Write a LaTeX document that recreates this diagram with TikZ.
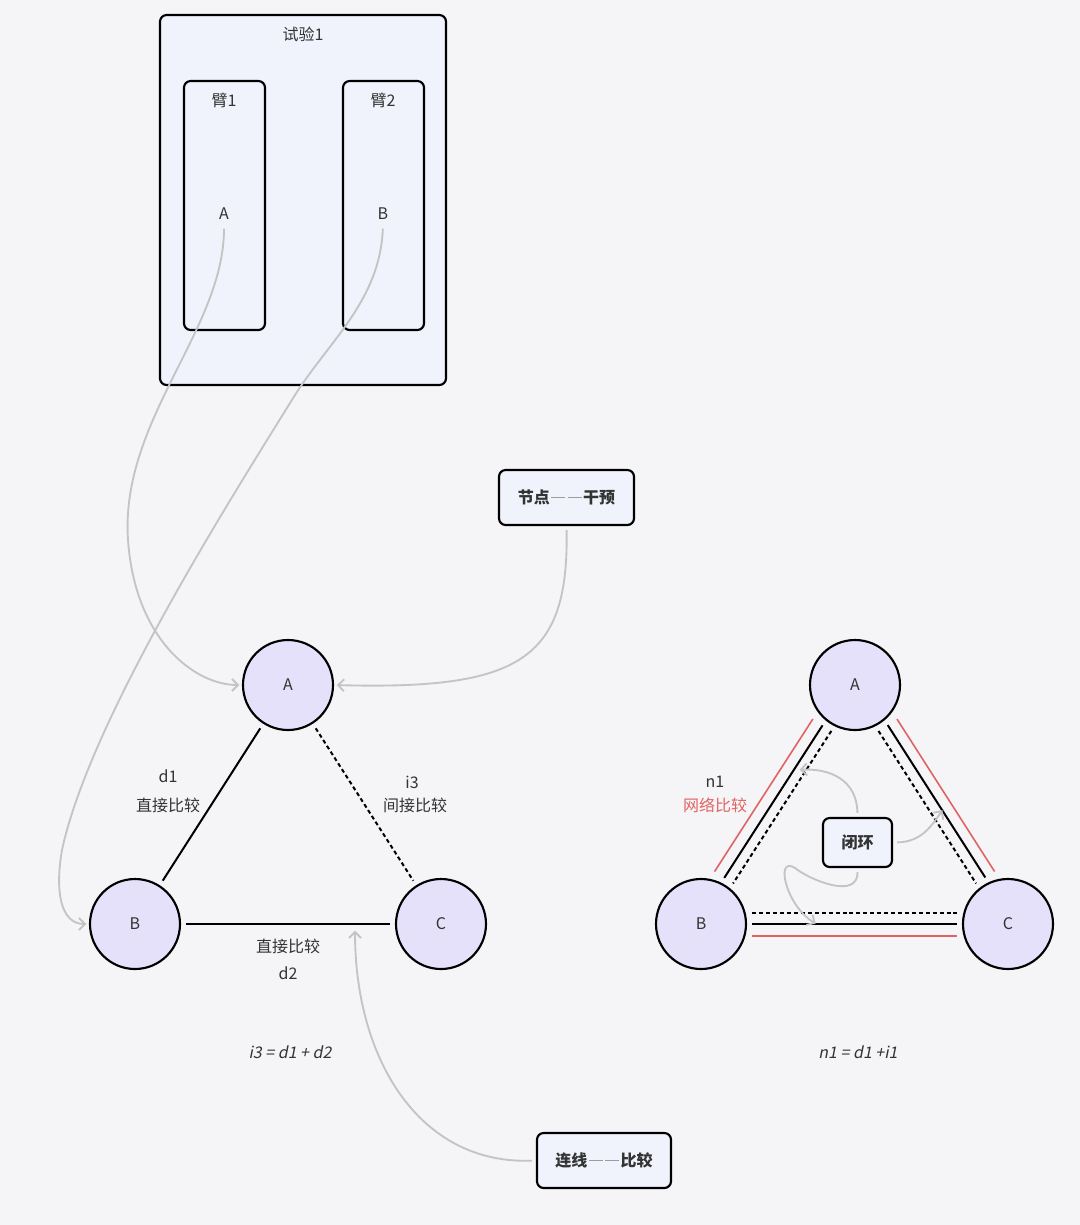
\documentclass[tikz,border=0pt]{standalone}
\usepackage{fontspec}
\setmainfont{Noto Sans CJK SC}
\newfontfamily\slantfont[FakeSlant=0.2]{Noto Sans CJK SC}
\usetikzlibrary{arrows.meta}
\definecolor{bgpaper}{HTML}{F5F5F7}
\definecolor{boxfill}{HTML}{F0F3FC}
\definecolor{circfill}{HTML}{E6E1FA}
\definecolor{guidegray}{HTML}{C4C4C4}
\definecolor{dashgray}{HTML}{9C9C9C}
\definecolor{netred}{HTML}{E06464}
\definecolor{inktext}{HTML}{333333}
\newcommand{\gapdash}{\textcolor{dashgray}{\makebox[12.5pt]{\rule[0.32em]{10.5pt}{1.1pt}}\makebox[12.5pt]{\rule[0.32em]{10.5pt}{1.1pt}}}}
\begin{document}
\begin{tikzpicture}[x=0.75pt,y=-0.75pt,
            font=\fontsize{12}{14}\selectfont,text=inktext,
            frame/.style={draw=black,line width=1.6pt,fill=boxfill,rounded corners=5pt,inner sep=0pt},
            tag/.style={frame,font=\fontsize{12}{14}\selectfont\bfseries},
            treat/.style={circle,draw=black,line width=1.6pt,fill=circfill,minimum size=67.5pt,inner sep=0pt},
            cmp/.style={line width=1.5pt,shorten <=4pt,shorten >=4pt},
            dots/.style={cmp,dash pattern=on 3pt off 2.2pt},
            rim/.style={cmp,draw=netred,line width=1.2pt},
            guide/.style={draw=guidegray,line width=1.4pt,shorten <=3pt,shorten >=2pt,-{Straight Barb[length=4.5pt,width=9pt]}},
            formula/.style={font=\slantfont\fontsize{12}{14}\selectfont}]
            \fill[bgpaper] (0,0) rectangle (1080,1225);

            \node[frame,minimum width=286*0.75pt,minimum height=370*0.75pt] at (303,200) (trial) {};
            \node at (303,34) (trialname) {试验1};
            \node[frame,minimum width=81*0.75pt,minimum height=249*0.75pt] at (224.5,205.5) (arm1) {};
            \node[frame,minimum width=81*0.75pt,minimum height=249*0.75pt] at (383.5,205.5) (arm2) {};
            \node at (224,100) (arm1name) {臂1};
            \node at (383,100) (arm2name) {臂2};
            \node at (224,214) (arm1A) {A};
            \node at (383,214) (arm2B) {B};

            \node[tag,minimum width=135*0.75pt,minimum height=55*0.75pt] at (566.5,497.5) (press) {节点\gapdash 干预};
            \node[tag,minimum width=134*0.75pt,minimum height=55*0.75pt] at (604,1160.5) (link) {连线\gapdash 比较};

            \node[treat] at (288,685) (lA) {A};
            \node[treat] at (135,924) (lB) {B};
            \node[treat] at (441,924) (lC) {C};
            \draw[cmp] (lA) -- (lB);
            \draw[dots] (lA) -- (lC);
            \draw[cmp] (lB) -- (lC);
            \coordinate (bcHit) at (355,928);

            \node at (168,776) (d1) {d1};
            \node at (168,805) (d1txt) {直接比较};
            \node at (412,782) (i3) {i3};
            \node at (415,805) (i3txt) {间接比较};
            \node at (288,946) (d2txt) {直接比较};
            \node at (288,973) (d2) {d2};
            \node[formula] at (290,1052) (lsum) {i3 = d1 + d2};

            \node[treat] at (855,685) (rA) {A};
            \node[treat] at (701,924) (rB) {B};
            \node[treat] at (1008,924) (rC) {C};
            \draw[dots,transform canvas={shift={(4.2,2.7)}}] (rA) -- (rB);
            \draw[cmp,transform canvas={shift={(-4.6,-2.9)}}] (rA) -- (rB);
            \draw[rim,transform canvas={shift={(-14.3,-9.2)}}] (rA) -- (rB);
            \draw[dots,transform canvas={shift={(-4.2,2.7)}}] (rA) -- (rC);
            \draw[cmp,transform canvas={shift={(5,-3.2)}}] (rA) -- (rC);
            \draw[rim,transform canvas={shift={(14.3,-9.2)}}] (rA) -- (rC);
            \draw[dots,transform canvas={shift={(0,-11)}}] (rB) -- (rC);
            \draw[cmp] (rB) -- (rC);
            \draw[rim,transform canvas={shift={(0,12)}}] (rB) -- (rC);

            \node at (715,782) (n1) {n1};
            \node[text=netred] at (715,805) (n1txt) {网络比较};
            \node[tag,minimum width=69*0.75pt,minimum height=49*0.75pt] at (857.5,842.5) (loop) {闭环};
            \coordinate (hitAB) at (797,770);
            \coordinate (hitAC) at (944,808);
            \coordinate (hitBC) at (818,925);
            \node[formula] at (858,1052) (rsum) {n1 = d1 +i1};

            \draw[guide] (arm1A.south) .. controls (224,330) and (120,420) .. (128,540) .. controls (135,640) and (195,685) .. (lA.west);
            \draw[guide] (arm2B.south) .. controls (380,300) and (330,340) .. (295,395) .. controls (230,500) and (90,720) .. (62,850) .. controls (55,890) and (60,924) .. (lB.west);
            \draw[guide] (press.south) .. controls (569,660) and (520,690) .. (lA.east);
            \draw[guide] (link.west) .. controls (420,1165) and (355,1060) .. (bcHit);
            \draw[guide] (loop.north) .. controls (857,780) and (830,768) .. (hitAB);
            \draw[guide] (loop.east) .. controls (922,842) and (932,825) .. (hitAC);
            \draw[guide] (loop.south) .. controls (858,900) and (810,880) .. (795,868) .. controls (775,855) and (785,905) .. (hitBC);
        \end{tikzpicture}
\end{document}
